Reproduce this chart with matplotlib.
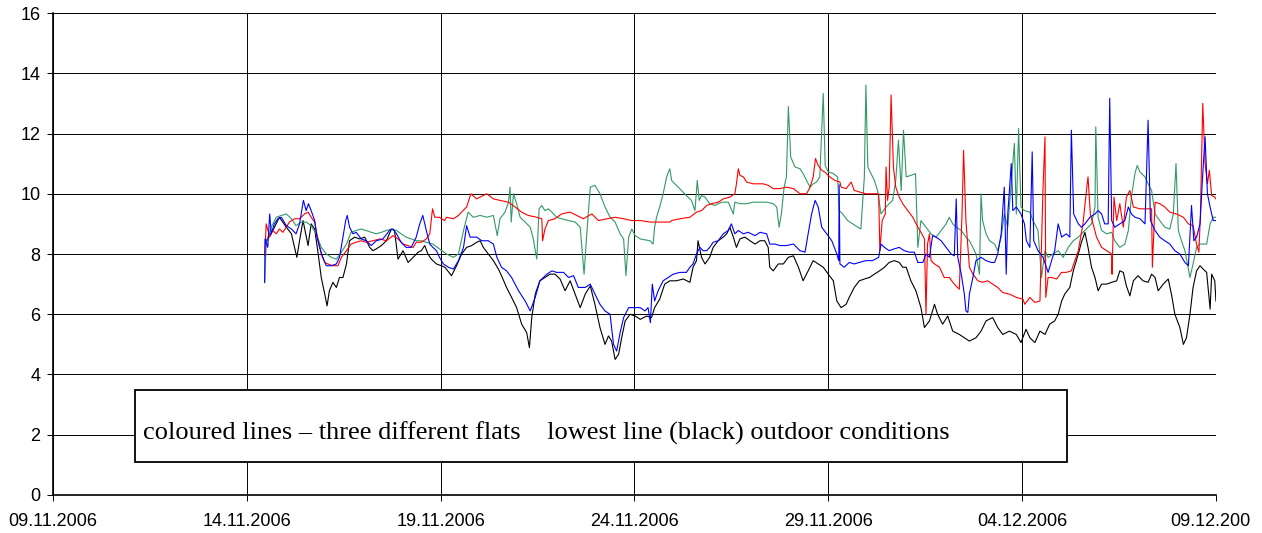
#!/usr/bin/env python3

import matplotlib
matplotlib.use("Agg")
import matplotlib.pyplot as plt
from matplotlib.patches import Rectangle
from matplotlib.transforms import Bbox

# time axis: days since 09.11.2006
tick_days = [0, 5, 10, 15, 20, 25, 30]
tick_labels = ["09.11.2006", "14.11.2006", "19.11.2006", "24.11.2006",
               "29.11.2006", "04.12.2006", "09.12.2006"]

# outdoor conditions (black)
black_t = [5.50, 5.67, 5.84, 6.02, 6.15, 6.29, 6.36, 6.45, 6.58, 6.66, 6.75, 6.83, 6.92,
           7.01, 7.07, 7.13, 7.22, 7.31, 7.39, 7.48, 7.57, 7.65, 7.78, 7.91, 8.04, 8.17,
           8.25, 8.34, 8.47, 8.60, 8.73, 8.81, 8.90, 9.03, 9.16, 9.29, 9.42, 9.50, 9.59,
           9.67, 9.76, 9.89, 10.02, 10.11, 10.28, 10.41, 10.54, 10.67, 10.80, 10.93,
           11.02, 11.10, 11.23, 11.36, 11.49, 11.57, 11.70, 11.83, 11.96, 12.09, 12.22,
           12.29, 12.35, 12.44, 12.56, 12.69, 12.82, 12.95, 13.08, 13.21, 13.34, 13.47,
           13.60, 13.73, 13.86, 13.98, 14.11, 14.24, 14.33, 14.41, 14.50, 14.59, 14.67,
           14.76, 14.89, 15.02, 15.15, 15.31, 15.44, 15.52, 15.65, 15.78, 15.91, 16.08,
           16.26, 16.43, 16.51, 16.60, 16.64, 16.73, 16.82, 16.94, 17.03, 17.16, 17.29,
           17.38, 17.46, 17.55, 17.63, 17.72, 17.85, 17.98, 18.11, 18.24, 18.36, 18.45,
           18.49, 18.58, 18.71, 18.84, 18.97, 19.10, 19.23, 19.35, 19.48, 19.61, 19.74,
           19.87, 20.00, 20.13, 20.22, 20.33, 20.46, 20.54, 20.67, 20.80, 20.93, 21.06,
           21.19, 21.32, 21.45, 21.57, 21.70, 21.83, 21.92, 22.01, 22.13, 22.26, 22.39,
           22.48, 22.61, 22.74, 22.82, 22.95, 23.08, 23.21, 23.38, 23.51, 23.64, 23.81,
           23.94, 24.07, 24.24, 24.37, 24.50, 24.67, 24.85, 24.97, 25.10, 25.20, 25.33,
           25.46, 25.59, 25.71, 25.84, 25.93, 26.02, 26.10, 26.23, 26.32, 26.45, 26.53,
           26.62, 26.70, 26.79, 26.88, 26.96, 27.05, 27.18, 27.31, 27.44, 27.52, 27.61,
           27.69, 27.78, 27.87, 27.99, 28.12, 28.25, 28.34, 28.43, 28.51, 28.64, 28.77,
           28.86, 28.94, 29.07, 29.16, 29.24, 29.33, 29.41, 29.50, 29.59, 29.67, 29.76,
           29.85, 29.89, 29.97, 30.00]
black_v = [8.44, 8.78, 9.22, 8.89, 8.67, 7.89, 8.44, 9.11, 8.28, 9.00, 8.83, 8.11, 7.22,
           6.67, 6.28, 6.78, 7.06, 6.89, 7.22, 7.22, 7.67, 8.44, 8.56, 8.50, 8.56, 8.22,
           8.11, 8.17, 8.28, 8.44, 8.83, 8.78, 7.83, 8.11, 7.72, 7.89, 8.06, 8.11, 8.28,
           8.00, 7.83, 7.67, 7.61, 7.56, 7.28, 7.61, 8.00, 8.22, 8.28, 8.39,
           8.44, 8.22, 8.00, 7.78, 7.50, 7.28, 6.89, 6.56, 6.22, 5.67, 5.39,
           4.89, 5.89, 6.67, 7.11, 7.22, 7.33, 7.33, 7.17, 6.78, 7.11, 6.67,
           6.22, 6.67, 6.94, 6.33, 5.56, 5.00, 5.28, 5.11, 4.50, 4.67, 5.22,
           5.78, 6.00, 5.94, 5.83, 5.94, 5.89, 6.22, 6.50, 7.00, 7.11, 7.11,
           7.17, 7.06, 7.56, 7.78, 8.44, 7.89, 7.67, 7.89, 8.22, 8.44, 8.56,
           8.67, 8.89, 8.56, 8.22, 8.50, 8.56, 8.44, 8.33, 8.44, 8.44, 8.22,
           7.56, 7.44, 7.67, 7.67, 7.89, 7.94, 7.56, 7.11, 7.44, 7.78, 7.67,
           7.56, 7.33, 7.11, 6.44, 6.22, 6.33, 6.56, 6.89, 7.11, 7.17, 7.22,
           7.33, 7.44, 7.56, 7.72, 7.78, 7.72, 7.56, 7.56, 7.11, 6.78, 6.22,
           5.56, 5.78, 6.33, 6.00, 5.67, 5.94, 5.44, 5.33, 5.22, 5.11, 5.22,
           5.44, 5.78, 5.89, 5.56, 5.33, 5.44, 5.33, 5.06, 5.50, 5.22, 5.06,
           5.44, 5.33, 5.67, 5.78, 6.00, 6.44, 6.67, 6.89, 7.44, 8.00, 8.39,
           8.72, 8.22, 7.56, 7.22, 6.78, 7.00, 7.00, 7.06, 7.11, 7.44, 7.39,
           6.94, 6.61, 7.11, 7.28, 7.11, 7.06, 7.33, 7.22, 6.78, 7.00, 7.17,
           6.61, 6.00, 5.56, 5.00, 5.22, 6.00, 6.89, 7.44, 7.61, 7.50, 7.39,
           6.17, 7.33, 7.11, 6.44]

# flat 1 (blue)
blue_t = [5.46, 5.47, 5.54, 5.59, 5.63, 5.71, 5.80, 5.89, 6.02, 6.15, 6.27, 6.36, 6.46,
          6.53, 6.59, 6.66, 6.75, 6.81, 6.88, 6.96, 7.05, 7.18, 7.31, 7.39, 7.48, 7.55,
          7.59, 7.65, 7.74, 7.82, 7.95, 8.08, 8.21, 8.34, 8.51, 8.68, 8.77, 8.86, 8.98,
          9.11, 9.24, 9.37, 9.46, 9.54, 9.63, 9.72, 9.80, 9.89, 9.97, 10.07, 10.20,
          10.33, 10.46, 10.59, 10.67, 10.76, 10.93, 11.06, 11.23, 11.36, 11.45, 11.57,
          11.70, 11.83, 12.01, 12.18, 12.31, 12.44, 12.56, 12.74, 12.87, 12.99, 13.17,
          13.30, 13.43, 13.55, 13.73, 13.86, 13.98, 14.11, 14.24, 14.37, 14.46, 14.54,
          14.63, 14.72, 14.85, 14.97, 15.15, 15.27, 15.35, 15.41, 15.46, 15.52, 15.61,
          15.74, 15.87, 16.00, 16.17, 16.34, 16.43, 16.51, 16.60, 16.69, 16.77, 16.86,
          16.94, 17.03, 17.16, 17.29, 17.42, 17.50, 17.59, 17.68, 17.81, 17.93, 18.11,
          18.24, 18.41, 18.49, 18.62, 18.75, 18.92, 19.10, 19.27, 19.40, 19.48, 19.57,
          19.66, 19.74, 19.83, 19.96, 20.09, 20.22, 20.27, 20.28, 20.30, 20.41, 20.54,
          20.67, 20.80, 20.97, 21.14, 21.30, 21.36, 21.45, 21.57, 21.70, 21.83, 21.96,
          22.09, 22.22, 22.31, 22.44, 22.52, 22.61, 22.69, 22.78, 22.91, 23.04, 23.17,
          23.25, 23.30, 23.34, 23.43, 23.51, 23.55, 23.60, 23.64, 23.73, 23.81, 23.94,
          24.07, 24.20, 24.29, 24.37, 24.46, 24.54, 24.59, 24.63, 24.72, 24.76, 24.85,
          24.97, 25.06, 25.11, 25.20, 25.26, 25.30, 25.41, 25.54, 25.67, 25.76, 25.84,
          25.93, 26.02, 26.14, 26.23, 26.27, 26.33, 26.45, 26.53, 26.62, 26.75, 26.88,
          26.96, 27.05, 27.13, 27.22, 27.26, 27.31, 27.39, 27.52, 27.65, 27.74, 27.82,
          27.91, 28.04, 28.17, 28.25, 28.31, 28.43, 28.55, 28.68, 28.81, 28.94, 29.07,
          29.20, 29.29, 29.37, 29.43, 29.50, 29.59, 29.66, 29.72, 29.78, 29.85, 29.93,
          30.00]
blue_v = [7.06, 8.50, 8.22, 9.33, 8.67, 9.00, 9.17, 9.22, 8.94, 8.83, 8.67, 9.00, 9.78,
          9.44, 9.67, 9.44, 9.11, 8.56, 8.22, 7.89, 7.61, 7.61, 7.67, 7.89, 8.56, 9.11,
          9.28, 8.89, 8.67, 8.72, 8.50, 8.44, 8.28, 8.44, 8.50, 8.78, 8.83, 8.67, 8.39,
          8.22, 8.22, 8.56, 9.00, 9.28, 8.78, 8.33, 8.22, 8.11, 7.89, 7.67, 7.56,
          7.50, 7.78, 8.22, 8.94, 8.56, 8.56, 8.44, 8.44, 8.33, 7.89, 7.56,
          7.44, 7.22, 6.78, 6.44, 6.11, 6.56, 7.11, 7.33, 7.44, 7.39, 7.39,
          7.22, 7.28, 6.89, 6.89, 7.00, 6.67, 6.33, 6.11, 6.00, 5.00, 4.78,
          5.39, 5.89, 6.22, 6.22, 6.22, 6.11, 6.22, 5.72, 7.00, 6.44, 6.78,
          7.11, 7.22, 7.33, 7.39, 7.39, 7.56, 7.67, 8.00, 8.22, 8.11, 8.11,
          8.22, 8.39, 8.44, 8.67, 8.78, 9.00, 8.67, 8.78, 8.67, 8.72, 8.61,
          8.72, 8.67, 8.33, 8.33, 8.28, 8.28, 8.33, 8.11, 8.06, 8.67, 9.33,
          9.78, 9.56, 8.89, 8.67, 8.44, 8.00, 7.78, 10.30, 7.67, 7.56, 7.72,
          7.67, 7.72, 7.78, 7.78, 7.89, 8.33, 8.22, 8.11, 8.17, 8.22, 8.11,
          8.06, 8.06, 7.72, 7.72, 8.00, 7.89, 8.61, 8.56, 8.44, 8.22, 8.00,
          7.94, 9.83, 7.89, 7.33, 6.67, 6.11, 6.06, 6.67, 7.22, 7.78, 7.89,
          7.78, 7.72, 7.72, 8.00, 8.67, 10.22, 7.33, 9.33, 11.00, 9.44, 9.56,
          9.33, 9.00, 8.44, 8.22, 11.39, 8.44, 8.11, 7.89, 7.39, 7.78, 8.11,
          9.00, 8.56, 8.67, 8.56, 12.11, 9.33, 9.00, 8.89, 9.00, 9.22, 9.33,
          9.44, 9.33, 9.00, 9.00, 13.17, 9.11, 8.89, 9.00, 9.11, 9.56, 9.33,
          9.22, 9.17, 9.00, 12.44, 9.11, 8.78, 8.56, 8.44, 8.33, 8.11, 8.00,
          7.72, 7.61, 9.61, 8.44, 8.56, 9.00, 10.67, 11.89, 10.00, 9.56, 9.11,
          9.11]

# flat 2 (red)
red_t = [5.46, 5.50, 5.59, 5.67, 5.76, 5.84, 5.93, 6.10, 6.23, 6.36, 6.49, 6.58, 6.66,
         6.75, 6.83, 6.92, 7.01, 7.09, 7.22, 7.35, 7.44, 7.57, 7.69, 7.82, 7.95, 8.08,
         8.25, 8.43, 8.60, 8.77, 8.90, 9.03, 9.16, 9.29, 9.37, 9.50, 9.63, 9.72, 9.79,
         9.85, 9.97, 10.10, 10.15, 10.33, 10.46, 10.54, 10.67, 10.78, 10.93, 11.19,
         11.36, 11.53, 11.75, 11.92, 12.09, 12.26, 12.48, 12.61, 12.63, 12.69, 12.78,
         12.95, 13.12, 13.34, 13.51, 13.68, 13.90, 14.07, 14.29, 14.50, 14.72, 14.93,
         15.15, 15.40, 15.91, 15.96, 16.17, 16.43, 16.60, 16.73, 16.86, 16.99, 17.16,
         17.29, 17.46, 17.59, 17.63, 17.68, 17.72, 17.81, 17.89, 18.06, 18.19, 18.32,
         18.45, 18.58, 18.75, 18.92, 19.10, 19.27, 19.44, 19.53, 19.61, 19.67, 19.74,
         19.83, 19.91, 20.04, 20.17, 20.30, 20.33, 20.46, 20.59, 20.67, 20.80, 20.97,
         21.14, 21.30, 21.33, 21.39, 21.47, 21.49, 21.53, 21.57, 21.62, 21.68, 21.74,
         21.83, 21.92, 22.05, 22.18, 22.31, 22.39, 22.48, 22.52, 22.56, 22.61, 22.65,
         22.74, 22.87, 22.99, 23.12, 23.25, 23.38, 23.45, 23.49, 23.55, 23.64, 23.73,
         23.86, 23.98, 24.11, 24.24, 24.37, 24.50, 24.67, 24.85, 25.02, 25.07, 25.20,
         25.33, 25.46, 25.50, 25.54, 25.59, 25.61, 25.67, 25.76, 25.89, 26.02, 26.14,
         26.27, 26.36, 26.45, 26.57, 26.66, 26.70, 26.76, 26.83, 26.92, 27.05, 27.18,
         27.31, 27.32, 27.37, 27.44, 27.52, 27.61, 27.69, 27.78, 27.87, 28.04, 28.21,
         28.34, 28.36, 28.43, 28.55, 28.68, 28.81, 28.98, 29.16, 29.29, 29.41, 29.50,
         29.56, 29.60, 29.66, 29.72, 29.78, 29.83, 29.89, 29.97, 30.00]
red_v = [7.94, 9.00, 8.56, 8.78, 8.67, 8.83, 8.72, 9.06, 9.17, 9.17, 9.33, 9.39, 9.22,
         9.06, 8.50, 8.00, 7.72, 7.67, 7.61, 7.61, 7.89, 8.11, 8.33, 8.39, 8.44, 8.39,
         8.44, 8.50, 8.44, 8.61, 8.50, 8.33, 8.28, 8.22, 8.39, 8.39, 8.50, 8.67, 9.50,
         9.22, 9.22, 9.11, 9.22, 9.17, 9.28, 9.39, 9.56, 10.00, 9.83, 10.00,
         9.83, 9.78, 9.72, 9.56, 9.39, 9.28, 9.22, 9.17, 8.44, 8.83, 9.11,
         9.17, 9.33, 9.39, 9.28, 9.17, 9.33, 9.11, 9.17, 9.22, 9.17, 9.11,
         9.11, 9.06, 9.06, 9.11, 9.17, 9.22, 9.39, 9.44, 9.61, 9.67, 9.72,
         9.83, 9.89, 10.00, 10.33, 10.83, 10.61, 10.56, 10.39, 10.33, 10.33, 10.33,
         10.28, 10.17, 10.17, 10.22, 10.17, 10.00, 10.00, 10.22, 10.56, 11.17, 10.94,
         10.78, 10.72, 10.56, 10.44, 10.39, 10.22, 10.17, 10.39, 10.11, 10.06, 10.00,
         10.00, 10.00, 8.11, 9.11, 9.33, 10.89, 9.78, 10.22, 13.28, 10.89, 10.22,
         9.89, 9.67, 9.44, 9.22, 8.89, 8.72, 8.50, 6.00, 8.33, 8.67, 7.78,
         7.67, 7.56, 7.22, 7.22, 7.00, 6.83, 9.33, 11.44, 9.11, 7.56, 7.33,
         7.11, 7.06, 7.11, 7.00, 6.89, 6.72, 6.67, 6.56, 6.50, 6.33, 6.56,
         6.39, 6.44, 8.33, 10.22, 11.89, 6.56, 7.22, 7.22, 7.17, 7.39, 7.39,
         7.44, 7.78, 8.11, 9.00, 10.11, 10.56, 9.33, 9.00, 8.56, 8.22, 8.11,
         8.00, 7.33, 9.89, 9.11, 9.67, 8.89, 9.89, 10.11, 9.56, 9.50, 9.50,
         9.50, 7.56, 9.72, 9.67, 9.56, 9.39, 9.33, 9.22, 9.00, 8.94, 8.33,
         8.06, 9.33, 13.00, 11.00, 10.33, 10.78, 9.94, 9.89, 9.83]

# flat 3 (green)
green_t = [5.46, 5.50, 5.63, 5.76, 5.89, 6.02, 6.15, 6.27, 6.40, 6.53, 6.66, 6.79, 6.92,
           7.05, 7.18, 7.31, 7.44, 7.57, 7.69, 7.82, 7.95, 8.08, 8.21, 8.34, 8.47, 8.60,
           8.73, 8.86, 8.98, 9.11, 9.24, 9.37, 9.50, 9.63, 9.80, 9.97, 10.15, 10.33,
           10.46, 10.59, 10.71, 10.84, 11.02, 11.19, 11.36, 11.46, 11.53, 11.66, 11.75,
           11.79, 11.82, 11.88, 11.96, 12.05, 12.18, 12.31, 12.38, 12.48, 12.54, 12.61,
           12.69, 12.78, 12.87, 12.99, 13.12, 13.30, 13.47, 13.60, 13.70, 13.77, 13.86,
           13.98, 14.11, 14.24, 14.37, 14.50, 14.63, 14.72, 14.78, 14.85, 14.93, 15.02,
           15.15, 15.40, 15.48, 15.52, 15.57, 15.65, 15.74, 15.83, 15.91, 15.96, 16.04,
           16.13, 16.21, 16.34, 16.47, 16.56, 16.62, 16.67, 16.73, 16.82, 16.94, 17.07,
           17.25, 17.42, 17.55, 17.59, 17.72, 17.89, 18.06, 18.24, 18.41, 18.58, 18.67,
           18.73, 18.79, 18.86, 18.92, 18.97, 19.03, 19.14, 19.27, 19.35, 19.44, 19.53,
           19.61, 19.70, 19.78, 19.87, 19.92, 20.00, 20.13, 20.24, 20.28, 20.37, 20.50,
           20.63, 20.76, 20.84, 20.89, 20.93, 20.97, 21.02, 21.10, 21.19, 21.27, 21.36,
           21.49, 21.57, 21.66, 21.74, 21.81, 21.88, 21.94, 22.01, 22.13, 22.25, 22.31,
           22.39, 22.52, 22.65, 22.78, 22.91, 23.04, 23.12, 23.21, 23.30, 23.43, 23.55,
           23.64, 23.73, 23.81, 23.90, 23.94, 23.98, 24.07, 24.16, 24.29, 24.37, 24.46,
           24.54, 24.63, 24.80, 24.85, 24.91, 24.97, 25.06, 25.20, 25.28, 25.41, 25.50,
           25.59, 25.67, 25.80, 25.93, 26.06, 26.19, 26.32, 26.45, 26.57, 26.70, 26.79,
           26.88, 26.90, 26.96, 27.05, 27.18, 27.31, 27.39, 27.52, 27.65, 27.74, 27.82,
           27.91, 27.97, 28.04, 28.17, 28.25, 28.34, 28.43, 28.55, 28.68, 28.81, 28.90,
           28.97, 29.03, 29.11, 29.20, 29.33, 29.41, 29.50, 29.59, 29.67, 29.76, 29.85,
           29.93, 30.00]
green_v = [7.05, 8.33, 8.89, 9.22, 9.28, 9.33, 9.17, 8.94, 9.06, 9.06, 8.94, 8.67, 8.22,
           8.00, 7.89, 7.83, 8.06, 8.33, 8.72, 8.78, 8.83, 8.78, 8.72, 8.67, 8.72, 8.78,
           8.83, 8.78, 8.67, 8.56, 8.50, 8.44, 8.44, 8.39, 8.33, 8.17, 8.00, 7.89,
           8.00, 8.78, 9.39, 9.22, 9.28, 9.22, 9.28, 8.61, 9.17, 9.39, 9.72,
           10.22, 9.06, 10.00, 9.67, 9.22, 9.06, 8.89, 8.56, 7.83, 9.50, 9.61,
           9.44, 9.50, 9.39, 9.22, 9.17, 9.11, 9.06, 8.89, 7.33, 8.67, 10.22,
           10.28, 10.00, 9.56, 9.22, 9.06, 8.67, 8.50, 7.28, 8.56, 8.83, 8.61,
           8.50, 8.44, 8.33, 8.89, 9.22, 9.56, 10.00, 10.56, 10.83, 10.44, 10.33,
           10.22, 10.11, 9.94, 9.78, 9.44, 10.44, 9.78, 9.94, 9.89, 9.67, 9.61,
           9.72, 9.72, 9.33, 9.72, 9.67, 9.67, 9.72, 9.72, 9.72, 9.67, 9.56,
           8.89, 9.33, 10.22, 10.56, 12.89, 11.22, 10.89, 10.83, 10.67, 10.44, 10.22,
           10.33, 10.39, 10.56, 13.33, 10.94, 10.72, 10.67, 10.56, 9.44, 9.33, 9.11,
           9.00, 8.89, 8.83, 9.78, 10.56, 13.61, 10.89, 10.67, 10.44, 10.11, 9.33,
           9.56, 9.67, 9.78, 10.44, 11.78, 10.11, 12.11, 10.56, 10.61, 10.67, 8.22,
           9.11, 8.89, 8.67, 8.56, 8.78, 9.00, 9.22, 9.00, 8.89, 8.78, 8.56,
           8.44, 8.22, 8.00, 7.33, 10.00, 9.11, 8.67, 8.44, 8.33, 8.11, 8.56,
           9.33, 8.89, 11.67, 9.33, 12.17, 9.56, 9.44, 9.39, 9.11, 8.78, 7.22,
           8.11, 7.89, 8.00, 8.11, 7.89, 8.22, 8.44, 8.56, 8.72, 8.89, 9.00,
           9.56, 12.22, 9.22, 8.78, 8.67, 8.72, 8.44, 8.22, 8.33, 8.78, 9.89,
           10.67, 10.94, 10.72, 10.56, 10.33, 10.11, 9.33, 9.11, 8.89, 8.83, 9.33,
           11.00, 8.78, 8.44, 8.11, 7.22, 7.67, 8.22, 8.33, 8.33, 8.33, 9.00,
           9.22, 9.22]

note = "coloured lines \u2013 three different flats    lowest line (black) outdoor conditions"


def main():
    fig = plt.figure(figsize=(12.62, 5.33), dpi=100)
    ax = fig.add_axes([0.042, 0.0713, 0.9215, 0.9043])

    ax.plot(black_t, black_v, color="black", lw=0.8, zorder=3)
    ax.plot(green_t, green_v, color="#339966", lw=0.8, zorder=3)
    ax.plot(red_t, red_v, color="#FF0000", lw=0.8, zorder=3)
    ax.plot(blue_t, blue_v, color="#0000FF", lw=0.8, zorder=3)

    format_plot(ax)

    box = Rectangle((0.0705, 0.0685), 0.8014, 0.1493, transform=ax.transAxes,
                    facecolor="white", edgecolor="black", lw=1.3, zorder=5)
    ax.add_patch(box)
    ax.text(0.0775, 0.128, note, transform=ax.transAxes, fontsize=19,
            family="Liberation Serif", va="center", ha="left", zorder=6)

    # the last date label runs off the right edge of the original picture
    last = ax.get_xticklabels()[-1]
    last.set_clip_box(Bbox([[0, 0], [1250, 533]]))
    last.set_clip_on(True)

    fig.savefig("out.png", dpi=100)


def format_plot(ax):
    ax.set_xlim(0, 30)
    ax.set_ylim(0, 16)
    ax.set_xticks(tick_days)
    ax.set_xticklabels(tick_labels)
    ax.set_yticks(range(0, 17, 2))
    ax.grid(True, color="black", lw=0.7, zorder=1)
    for s in ["top", "right"]:
        ax.spines[s].set_visible(False)
    for s in ["left", "bottom"]:
        ax.spines[s].set_linewidth(1.2)
    ax.tick_params(axis="both", direction="out", length=4, width=0.7,
                   labelsize=13, colors="black")
    ax.tick_params(axis="x", pad=9)
    ax.tick_params(axis="y", pad=5)
    for lab in ax.get_xticklabels() + ax.get_yticklabels():
        lab.set_family("Liberation Sans")


if __name__ == "__main__":
    main()
